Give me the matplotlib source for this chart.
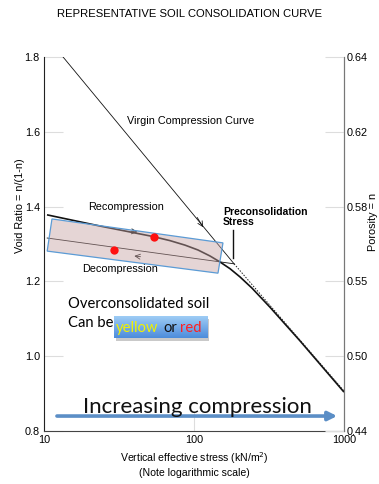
import matplotlib
matplotlib.use("Agg")
import matplotlib.pyplot as plt
import numpy as np
from matplotlib.patches import Polygon, Rectangle

# ---------------- data ----------------
recomp_stress = [10.47, 23.6, 53.3, 69.2, 87.1, 106.3, 127.8, 149.0, 173.8, 202.6, 243.6,
                 321, 509, 1000]
recomp_e = [1.378, 1.348, 1.320, 1.309, 1.297, 1.284, 1.268, 1.252, 1.234, 1.212, 1.182,
            1.131, 1.041, 0.904]

virgin_stress = [13.4, 185]
virgin_e = [1.80, 1.247]

dotted_stress = [185, 1000]
dotted_e = [1.247, 0.907]

decomp_stress = [10.5, 185]
decomp_e = [1.316, 1.247]

red_stress = [29.3, 54.1]
red_e = [1.284, 1.319]

box_stress = [11.3, 156, 144.5, 10.5]
box_e = [1.367, 1.303, 1.222, 1.281]

precon_stress = [182, 182]
precon_e = [1.337, 1.263]

left_ticks = [0.8, 1.0, 1.2, 1.4, 1.6, 1.8]
left_labels = ["0.8", "1.0", "1.2", "1.4", "1.6", "1.8"]
right_labels = ["0.44", "0.50", "0.55", "0.58", "0.62", "0.64"]
x_ticks = [10, 100, 1000]
x_labels = ["10", "100", "1000"]

W, H = 379, 484
fig = plt.figure(figsize=(W / 100, H / 100), dpi=100)
SANS = ["Liberation Sans", "DejaVu Sans"]
CAL = ["Lato", "DejaVu Sans"]
plt.rcParams["font.family"] = SANS

def fx(x):
    return x / W

def fy(y):
    return 1 - y / H

ax = fig.add_axes([fx(44), fy(431), fx(344) - fx(44), fy(57) - fy(431)])
ax.set_xscale("log")
ax.set_xlim(10, 1000)
ax.set_ylim(0.8, 1.8)

# lines
ax.plot(recomp_stress, recomp_e, color="#111111", lw=1.2, solid_capstyle="butt",
        solid_joinstyle="round", zorder=3)
ax.plot(virgin_stress, virgin_e, color="#111111", lw=0.6, zorder=3)
ax.plot(dotted_stress, dotted_e, color="#222222", lw=0.7, ls=(0, (1.5, 1.5)), zorder=3)
ax.plot(decomp_stress, decomp_e, color="#111111", lw=0.6, zorder=3)
ax.plot(precon_stress, precon_e, color="#111111", lw=1.0, zorder=3)

# chevron arrows on lines
def chevron(s0, e0, s1, e1):
    ax.annotate("", xy=(s1, e1), xytext=(s0, e0),
                arrowprops=dict(arrowstyle="->", lw=0.6, color="#111111",
                                mutation_scale=9, shrinkA=0, shrinkB=0), zorder=4)

chevron(105, 1.371, 115, 1.345)
chevron(38, 1.334, 42, 1.332)
chevron(44, 1.266, 40, 1.268)

# shaded rectangle
poly = Polygon(list(zip(box_stress, box_e)), closed=True,
               facecolor=(0.78, 0.64, 0.64, 0.45), edgecolor="#5b9bd5", lw=0.9, zorder=5)
ax.add_patch(poly)

ax.plot(red_stress, red_e, "o", color="#ff1010", ms=6, mec="none", zorder=6)

# increasing compression arrow
ax.annotate("", xy=(900, 0.840), xytext=(12.2, 0.840),
            arrowprops=dict(arrowstyle="-|>", lw=2.6, color="#5b8ec6",
                            mutation_scale=13, shrinkA=0, shrinkB=0), zorder=2)

# axes styling
ax.spines["top"].set_visible(False)
ax.spines["left"].set_color("#222222")
ax.spines["bottom"].set_color("#444444")
ax.spines["right"].set_color("#777777")
ax.xaxis.set_minor_locator(matplotlib.ticker.NullLocator())
ax.set_xticks(x_ticks)
ax.set_xticklabels(x_labels)
ax.set_yticks(left_ticks)
ax.set_yticklabels(left_labels)
ax.tick_params(axis="both", direction="in", length=14, width=0.8, color="#dddddd",
               labelsize=7.8, pad=3)

ax2 = ax.twinx()
ax2.set_ylim(0.8, 1.8)
ax2.set_yticks(left_ticks)
ax2.set_yticklabels(right_labels)
ax2.tick_params(axis="y", direction="in", length=14, width=0.8, color="#dddddd",
                labelsize=7.8, pad=2)
for s in ["top", "left", "bottom"]:
    ax2.spines[s].set_visible(False)
ax2.spines["right"].set_color("#777777")

# texts
fig.text(fx(190), fy(14), "REPRESENTATIVE SOIL CONSOLIDATION CURVE", ha="center", va="center",
         fontsize=8.1)
fig.text(fx(127), fy(121), "Virgin Compression Curve", ha="left", va="center", fontsize=7.8)
fig.text(fx(88), fy(207), "Recompression", ha="left", va="center", fontsize=7.8)
fig.text(fx(82), fy(269), "Decompression", ha="left", va="center", fontsize=7.8)
fig.text(fx(223), fy(217), "Preconsolidation\nStress", ha="left", va="center", fontsize=7.5,
         fontweight="bold", linespacing=0.9)
fig.text(fx(20), fy(206), "Void Ratio = n/(1-n)", rotation=90, ha="center", va="center",
         fontsize=7.8)
fig.text(fx(373), fy(222), "Porosity = n", rotation=90, ha="center", va="center", fontsize=7.8)
fig.text(fx(194), fy(462), "Vertical effective stress (kN/m$^2$)", ha="center", va="baseline",
         fontsize=7.6)
fig.text(fx(194), fy(476), "(Note logarithmic scale)", ha="center", va="baseline",
         fontsize=7.6)

fig.text(fx(68), fy(308), "Overconsolidated soil", ha="left", va="baseline", fontsize=10.6,
         family=CAL)
fig.text(fx(68), fy(327), "Can be", ha="left", va="baseline", fontsize=10.6, family=CAL)

# gradient box with shadow
sax = fig.add_axes([fx(116), fy(341), fx(207) - fx(114), fy(316) - fy(338)])
sax.set_zorder(3)
sax.add_patch(Rectangle((0, 0), 1, 1, facecolor="#c9c9c9", edgecolor="none"))
sax.set_axis_off()
bax = fig.add_axes([fx(114), fy(338), fx(207) - fx(114), fy(316) - fy(338)])
bax.set_zorder(4)
grad = np.linspace(0, 1, 50).reshape(-1, 1)
top = np.array([0.62, 0.80, 0.96])
bot = np.array([0.30, 0.55, 0.86])
img = top[None, None, :] * (1 - grad[:, :, None]) + bot[None, None, :] * grad[:, :, None]
bax.imshow(img, aspect="auto", extent=[0, 1, 0, 1], interpolation="bilinear")
bax.set_xlim(0, 1)
bax.set_ylim(0, 1)
bax.set_axis_off()
bax.text(0.02, 0.28, "yellow", ha="left", va="baseline", fontsize=10.6, family=CAL,
         color="#f2f200", transform=bax.transAxes)
bax.text(0.53, 0.28, "or", ha="left", va="baseline", fontsize=10.6, family=CAL,
         color="#111111", transform=bax.transAxes)
bax.text(0.71, 0.28, "red", ha="left", va="baseline", fontsize=10.6, family=CAL,
         color="#ff2020", transform=bax.transAxes)

fig.text(fx(197), fy(413), "Increasing compression", ha="center", va="baseline", fontsize=16,
         family=CAL, color="#111111")

fig.savefig("out.png", dpi=100)
